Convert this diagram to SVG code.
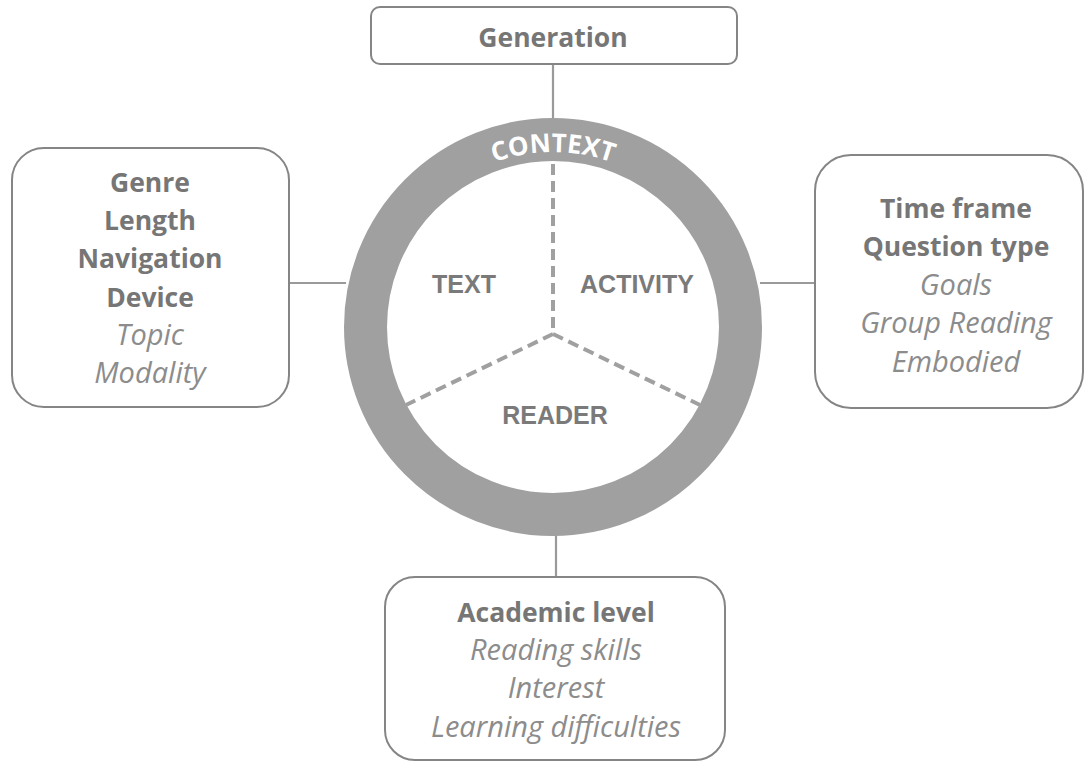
<svg xmlns="http://www.w3.org/2000/svg" width="1085" height="762" viewBox="0 0 1085 762">
  <defs>
    <style>
      .box { fill: #ffffff; stroke: #858585; stroke-width: 2; }
      .link { stroke: #9a9a9a; stroke-width: 2.2; fill: none; }
      .divider { stroke: #a0a0a0; stroke-width: 4; stroke-dasharray: 11 6; fill: none; }
      .lbl { font-family: "Open Sans", "Liberation Sans", sans-serif; text-anchor: middle; }
      .b { font-weight: bold; font-size: 26.5px; fill: #767676; }
      .i { font-style: italic; font-size: 29px; fill: #8c8c8c; }
      .sector { font-family: "Liberation Sans", Arial, sans-serif; font-weight: bold; font-size: 25px; fill: #7a7a7a; text-anchor: middle; }
      .ringlbl { font-family: "Open Sans", "Liberation Sans", sans-serif; font-weight: bold; font-size: 26px; fill: #ffffff; }
    </style>
    <!-- arc used to bend the ring caption -->
    <path id="ringArc" d="M 378 327 A 175 175 0 0 1 728 327"/>
  </defs>

  <!-- connectors from the ring to each box -->
  <g id="connectors">
    <line class="link" x1="553" y1="64" x2="553" y2="120"/>
    <line class="link" x1="289" y1="283" x2="346" y2="283"/>
    <line class="link" x1="760" y1="283" x2="815" y2="283"/>
    <line class="link" x1="556" y1="534" x2="556" y2="577"/>
  </g>

  <!-- central ring with the three sectors -->
  <g id="context-ring">
    <circle cx="553" cy="327" r="187.5" fill="#ffffff" stroke="#a0a0a0" stroke-width="43"/>
    <line class="divider" x1="553" y1="164" x2="553" y2="334"/>
    <line class="divider" x1="553" y1="334" x2="406" y2="405"/>
    <line class="divider" x1="553" y1="334" x2="700" y2="405"/>
    <text class="ringlbl"><textPath href="#ringArc" startOffset="50%" text-anchor="middle">CONTEXT</textPath></text>
    <text class="sector" x="464" y="293">TEXT</text>
    <text class="sector" x="637" y="293">ACTIVITY</text>
    <text class="sector" x="555" y="424">READER</text>
  </g>

  <g id="generation">
    <rect class="box" x="371" y="7" width="366" height="57" rx="9"/>
    <text class="lbl b" x="553" y="47">Generation</text>
  </g>

  <g id="text-factors">
    <rect class="box" x="12" y="148" width="277" height="259" rx="32"/>
    <text class="lbl b" x="150" y="192">Genre</text>
    <text class="lbl b" x="150" y="230">Length</text>
    <text class="lbl b" x="150" y="268">Navigation</text>
    <text class="lbl b" x="150" y="307">Device</text>
    <text class="lbl i" x="150" y="345">Topic</text>
    <text class="lbl i" x="150" y="383">Modality</text>
  </g>

  <g id="activity-factors">
    <rect class="box" x="815" y="155" width="268" height="253" rx="36"/>
    <text class="lbl b" x="956" y="218">Time frame</text>
    <text class="lbl b" x="956" y="256">Question type</text>
    <text class="lbl i" x="956" y="295">Goals</text>
    <text class="lbl i" x="956" y="333">Group Reading</text>
    <text class="lbl i" x="956" y="372">Embodied</text>
  </g>

  <g id="reader-factors">
    <rect class="box" x="385" y="577" width="340" height="183" rx="30"/>
    <text class="lbl b" x="556" y="622">Academic level</text>
    <text class="lbl i" x="556" y="660">Reading skills</text>
    <text class="lbl i" x="556" y="698">Interest</text>
    <text class="lbl i" x="556" y="737">Learning difficulties</text>
  </g>
</svg>
